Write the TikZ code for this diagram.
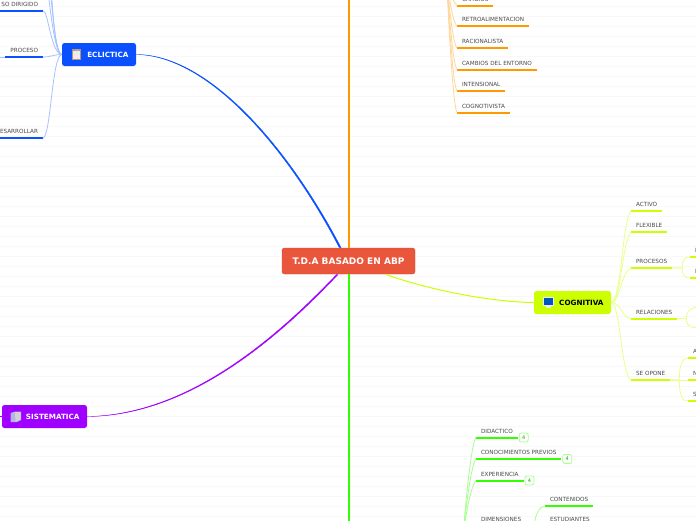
\documentclass[tikz,border=0pt]{standalone}
\usepackage{fontspec}
\setmainfont{DejaVu Sans}
\usetikzlibrary{positioning}
\definecolor{mapGrid}{HTML}{F8F8F8}
\definecolor{mapInk}{HTML}{4A4A4A}
\definecolor{mapRoot}{HTML}{EA563C}
\definecolor{mapBlue}{HTML}{0A50FF}
\definecolor{mapBlueL}{HTML}{A6C1FF}
\definecolor{mapOrange}{HTML}{FF9900}
\definecolor{mapOrangeL}{HTML}{FFD699}
\definecolor{mapLime}{HTML}{CCFF00}
\definecolor{mapLimeL}{HTML}{E9FF8C}
\definecolor{mapGreen}{HTML}{33FF00}
\definecolor{mapGreenL}{HTML}{A6FF8F}
\definecolor{mapPurple}{HTML}{A000FF}

\begin{document}
\begin{tikzpicture}[
  x=1pt, y=-1pt,
  font=\fontsize{5.7}{6.5}\selectfont,
  leaf/.style={anchor=south west, text=mapInk, inner xsep=4.8pt, inner ysep=4.3pt,
               text height=4.3pt, text depth=0pt,
               append after command={(\tikzlastnode.south west) edge[line width=2pt, draw=#1]
                                     (\tikzlastnode.south east)}},
  leafend/.style={leaf=#1, anchor=south east},
  branch/.style={rounded corners=2.5pt, minimum height=23pt, inner xsep=7.5pt, inner ysep=0pt,
                 align=right, font=\fontsize{7.2}{8}\selectfont\bfseries},
  badge/.style={draw=mapGreenL, fill=white, line width=0.8pt, rounded corners=2pt,
                minimum size=9pt, inner sep=0pt, text=mapGreen!60!black,
                font=\fontsize{5}{5}\selectfont},
  twig/.style={line width=0.8pt, draw=#1},
]
\useasboundingbox (0,0) rectangle (696,520);
\clip (0,0) rectangle (696,520);
\fill[white] (0,0) rectangle (696,520);
\foreach \gridy in {6,16,...,516}
  \draw[mapGrid, line width=0.8pt] (0,\gridy) -- (696,\gridy);

% main topics
\node[branch, fill=mapRoot, draw=mapRoot!88!black, line width=0.4pt, text=white, minimum width=133pt,
      minimum height=26pt, align=center, font=\fontsize{9}{10}\selectfont\bfseries] (root) at (348.5,261)
  {T.D.A BASADO EN ABP};
\node[branch, fill=mapBlue, text=white, text width=59pt] (ecl) at (99,54.5) {ECLICTICA};
\node[branch, fill=mapLime, text=black, text width=62pt] (cog) at (572.5,302.5) {COGNITIVA};
\node[branch, fill=mapPurple, text=white, text width=70pt] (sis) at (44.5,416.5) {SISTEMATICA};

% offscreen ends
\coordinate (ordTop) at (349,-20);
\coordinate (greenEnd) at (349,540);
\coordinate (rootNW) at (341,247.5);
\coordinate (rootNWb) at (339.2,247.5);
\coordinate (rootSW) at (338,274.5);
\coordinate (rootSWb) at (336.6,274.5);
\coordinate (rootSE) at (386,274.5);
\coordinate (sisEnd) at (-5,416.5);
\coordinate (hubOrange) at (446,-35);
\coordinate (hubGreen) at (462,548);
\coordinate (eclTopA) at (47,-30);
\coordinate (eclTopB) at (49,-30);
\coordinate (eclTopC) at (45,-30);
\coordinate (procEnd) at (-5,57);
\coordinate (relUp) at (700,307);
\coordinate (relDown) at (700,328);

% links to the root
\draw[mapOrange, line width=2pt] (root.north -| ordTop) -- (ordTop);
\draw[mapGreen, line width=2pt] (root.south -| greenEnd) -- (greenEnd);
\draw[mapBlue, line width=0.3pt, fill=mapBlue] (ecl.east) .. controls (210,54.5) and (290,150) .. (rootNW)
  -- (rootNWb) .. controls (289,150.6) and (209,55.4) .. (ecl.east) -- cycle;
\draw[mapPurple, line width=0.3pt, fill=mapPurple] (sis.east) .. controls (190,416) and (280,336) .. (rootSW)
  -- (rootSWb) .. controls (279,334.8) and (190,415) .. (sis.east) -- cycle;
\draw[mapLime, line width=1pt] (cog.west) .. controls (490,302) and (430,290) .. (rootSE);
\draw[mapPurple, line width=1pt] (sis.west) -- (sisEnd);

% eclectic leaves
\node[leafend=mapBlue] (dir) at (43,11) {SO DIRIGIDO};
\node[leafend=mapBlue] (pro) at (43,57) {PROCESO};
\node[leafend=mapBlue] (des) at (43,138) {ESARROLLAR};
\draw[twig=mapBlueL] (ecl.west) .. controls +(-8,0) and +(4,10) .. (eclTopA);
\draw[twig=mapBlueL] (ecl.west) .. controls +(-9,0) and +(3,10) .. (eclTopB);
\draw[twig=mapBlueL] (ecl.west) .. controls +(-9,-1) and +(3,12) .. (eclTopC);
\draw[twig=mapBlueL] (ecl.west) .. controls +(-11,-1) and +(5,-2) .. (dir.south east);
\draw[twig=mapBlueL] (ecl.west) .. controls +(-8,0) and +(8,0) .. (pro.south east);
\draw[twig=mapBlueL] (ecl.west) .. controls +(-10,1) and +(8,-2) .. (des.south east);
\draw[twig=mapBlueL] (pro.south west) -- (procEnd);

% orange leaves
\node[leaf=mapOrange] (cam) at (457,5.5) {CAMBIOS};
\node[leaf=mapOrange] (ret) at (457,26) {RETROALIMENTACION};
\node[leaf=mapOrange] (rac) at (457,48) {RACIONALISTA};
\node[leaf=mapOrange] (ent) at (457,69.5) {CAMBIOS DEL ENTORNO};
\node[leaf=mapOrange] (int) at (457,91) {INTENSIONAL};
\node[leaf=mapOrange] (cgn) at (457,112.5) {COGNOTIVISTA};
\draw[twig=mapOrangeL] (hubOrange) .. controls +(1,20) and +(-5,-4) .. (cam.south west);
\draw[twig=mapOrangeL] (hubOrange) .. controls +(1,20) and +(-5,-4) .. (ret.south west);
\draw[twig=mapOrangeL] (hubOrange) .. controls +(1,20) and +(-5,-5) .. (rac.south west);
\draw[twig=mapOrangeL] (hubOrange) .. controls +(1,20) and +(-5,-6) .. (ent.south west);
\draw[twig=mapOrangeL] (hubOrange) .. controls +(1,20) and +(-5,-7) .. (int.south west);
\draw[twig=mapOrangeL] (hubOrange) .. controls +(1,20) and +(-5,-8) .. (cgn.south west);

% cognitive leaves
\node[leaf=mapLime] (act) at (631,211) {ACTIVO};
\node[leaf=mapLime] (fle) at (631,232) {FLEXIBLE};
\node[leaf=mapLime] (prc) at (631,268) {PROCESOS};
\node[leaf=mapLime] (rel) at (631,318.5) {RELACIONES};
\node[leaf=mapLime] (son) at (631,380) {SE OPONE};
\node[leaf=mapLime] (prcA) at (690,257) {I};
\node[leaf=mapLime] (prcB) at (690,278) {I};
\node[leaf=mapLime] (sonA) at (688,358) {A};
\node[leaf=mapLime] (sonB) at (688,380) {N};
\node[leaf=mapLime] (sonC) at (688,401) {S};
\draw[twig=mapLimeL] (cog.east) .. controls +(10,0) and +(-9,10) .. (act.south west);
\draw[twig=mapLimeL] (cog.east) .. controls +(10,0) and +(-9,10) .. (fle.south west);
\draw[twig=mapLimeL] (cog.east) .. controls +(9,0) and +(-10,4) .. (prc.south west);
\draw[twig=mapLimeL] (cog.east) .. controls +(10,0) and +(-9,0) .. (rel.south west);
\draw[twig=mapLimeL] (cog.east) .. controls +(9,0) and +(-10,-6) .. (son.south west);
\draw[twig=mapLimeL] (prc.south east) -- ++(10,0) .. controls +(0,-8) and +(-5,0) .. (prcA.south west);
\draw[twig=mapLimeL] (prc.south east) -- ++(10,0) .. controls +(0,8) and +(-5,0) .. (prcB.south west);
\draw[twig=mapLimeL] (rel.south east) -- ++(9,0) .. controls +(0,-9) and +(-7,0) .. (relUp);
\draw[twig=mapLimeL] (rel.south east) -- ++(9,0) .. controls +(0,9) and +(-7,0) .. (relDown);
\draw[twig=mapLimeL] (son.south east) -- ++(9,0) .. controls +(0,-17) and +(-5,0) .. (sonA.south west);
\draw[twig=mapLimeL] (son.south east) -- (sonB.south west);
\draw[twig=mapLimeL] (son.south east) -- ++(9,0) .. controls +(0,17) and +(-5,0) .. (sonC.south west);

% green leaves
\node[leaf=mapGreen] (did) at (476,437.5) {DIDACTICO};
\node[leaf=mapGreen] (pre) at (476,459) {CONOCIMIENTOS PREVIOS};
\node[leaf=mapGreen] (exp) at (476,480.5) {EXPERIENCIA};
\node[leaf=mapGreen] (dim) at (476,526) {DIMENSIONES};
\node[leaf=mapGreen] (con) at (545,506) {CONTENIDOS};
\node[leaf=mapGreen] (est) at (545,526) {ESTUDIANTES};
\node[badge, right=1pt of did.south east] (didN) {4};
\node[badge, right=1pt of pre.south east] (preN) {4};
\node[badge, right=1pt of exp.south east] (expN) {4};
\draw[twig=mapGreenL] (hubGreen) .. controls +(2,-25) and +(-6,9) .. (did.south west);
\draw[twig=mapGreenL] (hubGreen) .. controls +(2,-25) and +(-6,8) .. (pre.south west);
\draw[twig=mapGreenL] (hubGreen) .. controls +(2,-25) and +(-6,7) .. (exp.south west);
\draw[twig=mapGreenL] (hubGreen) .. controls +(4,-12) and +(-8,4) .. (dim.south west);
\draw[twig=mapGreenL] (dim.south east) -- ++(8,0) .. controls +(1,-12) and +(-5,0) .. (con.south west);
\draw[twig=mapGreenL] (dim.south east) -- (est.south west);

% icons
\fill[brown!80!black!70!white] (72,49) rectangle (81,60);
\fill[white!85!gray] (73.2,50.5) rectangle (79.8,59);
\fill[gray!70] (74.5,48.5) rectangle (78.5,50.5);
\fill[white!92!blue] (543,297) rectangle (553.5,305.5);
\fill[blue!55!cyan!75!black] (544,298) rectangle (552.5,304.5);
\fill[white!85!gray] (546,305.5) rectangle (550.5,307.5);
\fill[gray!55!blue!40!white] (10.5,413) -- (15,411.5) -- (21,411.5) -- (21,420) -- (17,422) -- (10.5,422) -- cycle;
\fill[gray!35] (15,412) -- (20.5,412) -- (20.5,419.5) -- (15.5,421.5) -- cycle;
\end{tikzpicture}
\end{document}
